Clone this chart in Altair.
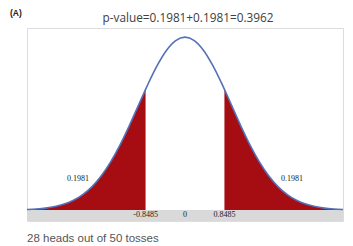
import altair as alt
import pandas as pd

# Standard normal curve
xs = [-3.4, -3.2, -3.0, -2.8, -2.6, -2.4, -2.2, -2.0, -1.8, -1.6, -1.4, -1.2, -1.0,
      -0.8485, -0.8, -0.6, -0.4, -0.2, 0.0, 0.2, 0.4, 0.6, 0.8, 0.8485,
      1.0, 1.2, 1.4, 1.6, 1.8, 2.0, 2.2, 2.4, 2.6, 2.8, 3.0, 3.2, 3.4]
ys = [0.0012, 0.0024, 0.0044, 0.0079, 0.0136, 0.0224, 0.0355, 0.0540, 0.0790, 0.1109,
      0.1497, 0.1942, 0.2420, 0.2784, 0.2897, 0.3332, 0.3683, 0.3910, 0.3989, 0.3910,
      0.3683, 0.3332, 0.2897, 0.2784, 0.2420, 0.1942, 0.1497, 0.1109, 0.0790, 0.0540,
      0.0355, 0.0224, 0.0136, 0.0079, 0.0044, 0.0024, 0.0012]
cutoff = 0.8485
tick_values = [-0.8485, 0, 0.8485]
tick_labels = ["-0.8485", "0", "0.8485"]
tail_labels = ["0.1981", "0.1981"]
tail_x = [-2.3, 2.3]
tail_y = [0.071, 0.071]
title_text = "p-value=0.1981+0.1981=0.3962"
panel_text = "(A)"
caption_text = "28 heads out of 50 tosses"

XMIN, XMAX = -3.4, 3.4
YMIN, YMAX = -0.0254, 0.42

curve = pd.DataFrame({"x": xs, "y": ys})
curve["side"] = ["L" if v <= -cutoff else ("R" if v >= cutoff else "M") for v in xs]
tails = curve[curve["side"] != "M"].copy()
tails["zero"] = 0.0

xsc = alt.Scale(domain=[XMIN, XMAX], nice=False, zero=False)
ysc = alt.Scale(domain=[YMIN, YMAX], nice=False, zero=False)
X = lambda f: alt.X(f, type="quantitative", scale=xsc, axis=None)
Y = lambda f: alt.Y(f, type="quantitative", scale=ysc, axis=None)

band = alt.Chart(pd.DataFrame({"x0": [XMIN], "x1": [XMAX], "y0": [YMIN], "y1": [0.0]})).mark_rect(
    color="#d9d9d9").encode(x=X("x0"), x2="x1", y=Y("y0"), y2="y1")

area = alt.Chart(tails).mark_area(color="#a50d12", interpolate="monotone").encode(
    x=X("x"), y=Y("y"), y2="zero", detail="side:N")

line = alt.Chart(curve).mark_line(color="#5470b8", strokeWidth=1.6, interpolate="monotone").encode(
    x=X("x"), y=Y("y"))

ticks = alt.Chart(pd.DataFrame({"x": tick_values, "t": tick_labels, "y": [YMIN / 2] * 3})).mark_text(
    font="Liberation Serif", fontSize=8, color="#222222", baseline="middle").encode(
    x=X("x"), y=Y("y"), text="t")

tl = alt.Chart(pd.DataFrame({"x": tail_x, "y": tail_y, "t": tail_labels})).mark_text(
    font="Liberation Serif", fontSize=8, color="#222222", baseline="middle").encode(
    x=X("x"), y=Y("y"), text="t")

title = alt.Chart(pd.DataFrame({"t": [title_text]})).mark_text(
    font="Open Sans", fontSize=11.8, color="#404040", baseline="middle", align="center").encode(
    x=alt.value(161), y=alt.value(-10), text="t")

panel = alt.Chart(pd.DataFrame({"t": [panel_text]})).mark_text(
    font="Liberation Sans", fontSize=8.5, fontWeight="bold", color="#222222",
    baseline="middle", align="left").encode(
    x=alt.value(-17), y=alt.value(-15), text="t")

caption = alt.Chart(pd.DataFrame({"t": [caption_text]})).mark_text(
    font="Liberation Sans", fontSize=11.5, color="#555555", baseline="middle", align="left").encode(
    x=alt.value(0), y=alt.value(211), text="t")

chart = alt.layer(band, area, line, ticks, tl, title, panel, caption).properties(
    width=316, height=193,
    autosize=alt.AutoSizeParams(type="none"),
    padding={"left": 27, "top": 28, "right": 10, "bottom": 25},
).configure_view(stroke="#c8c8c8", strokeWidth=1).configure(background="white")

chart.save("out.html", embed_options={"renderer": "svg", "actions": False})
